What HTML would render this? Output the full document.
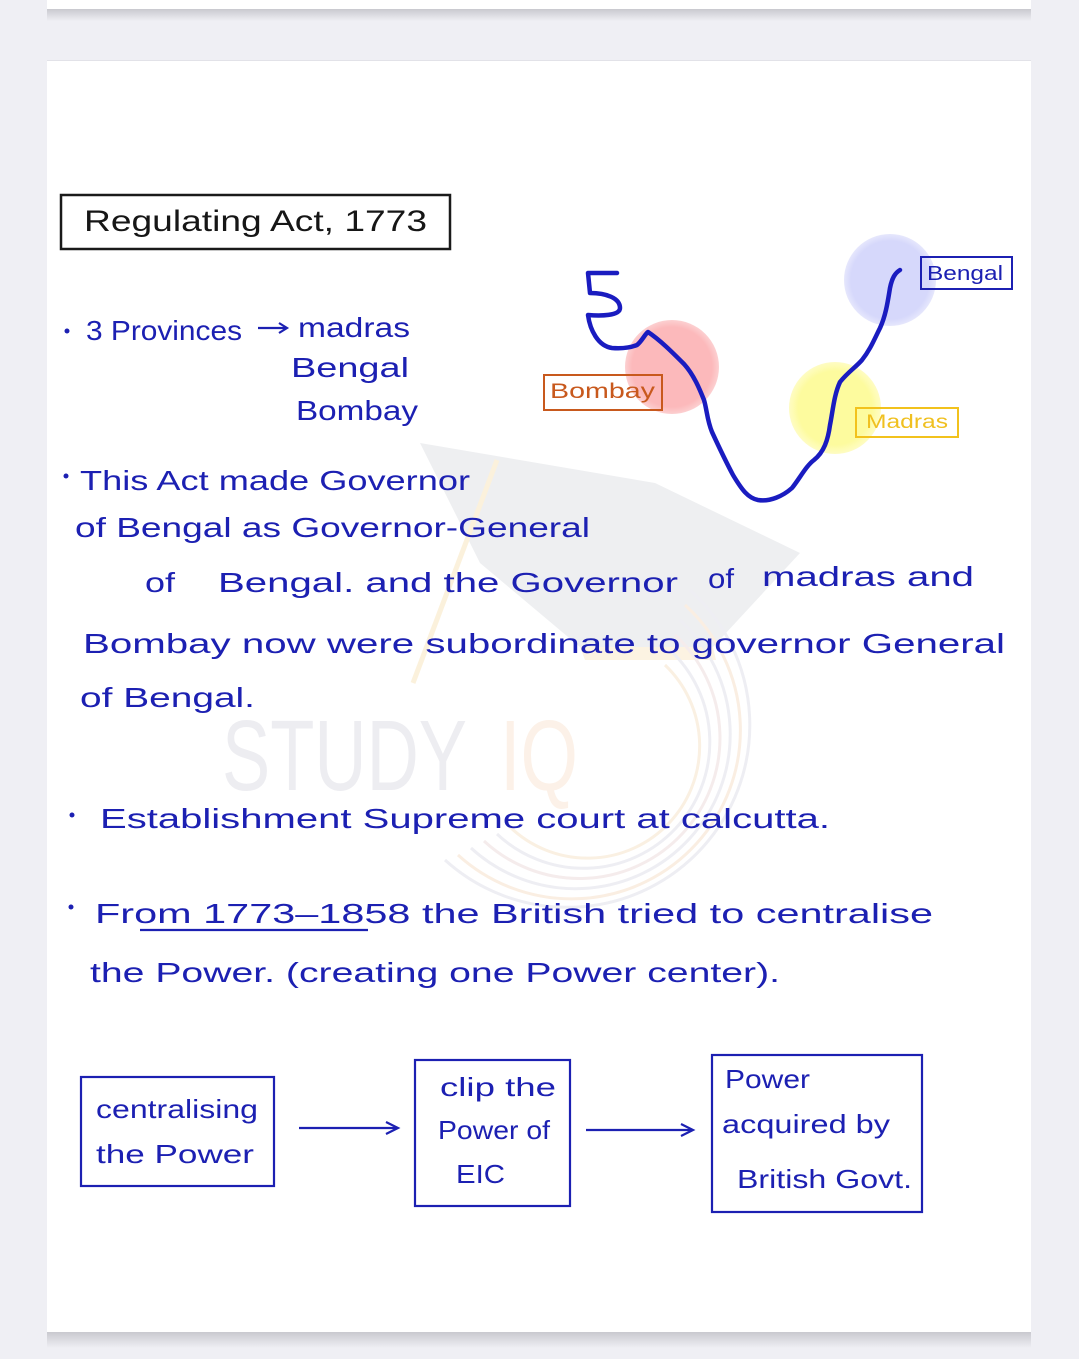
<!DOCTYPE html>
<html>
<head>
<meta charset="utf-8">
<style>
html,body{margin:0;padding:0;background:#efeff4;}
body{width:1079px;height:1359px;overflow:hidden;position:relative;}
svg{position:absolute;left:0;top:0;}
.h{font-family:"Liberation Sans",sans-serif;fill:#1c20b2;}
</style>
</head>
<body>
<svg width="1079" height="1359" viewBox="0 0 1079 1359" xmlns="http://www.w3.org/2000/svg">
  <defs>
    <linearGradient id="sh" x1="0" y1="0" x2="0" y2="1">
      <stop offset="0" stop-color="#c9c9cf"/>
      <stop offset="1" stop-color="#efeff4"/>
    </linearGradient>
    <radialGradient id="gb" cx="0.5" cy="0.5" r="0.5">
      <stop offset="0.85" stop-color="#d6d8fb"/>
      <stop offset="1" stop-color="#e6e7fc"/>
    </radialGradient>
    <radialGradient id="gr" cx="0.5" cy="0.5" r="0.5">
      <stop offset="0.85" stop-color="#fcb9bb"/>
      <stop offset="1" stop-color="#fcd0d1"/>
    </radialGradient>
    <radialGradient id="gy" cx="0.5" cy="0.5" r="0.5">
      <stop offset="0.8" stop-color="#fdfb9e"/>
      <stop offset="1" stop-color="#fefcc4"/>
    </radialGradient>
  </defs>

  <!-- background pages -->
  <rect x="0" y="0" width="1079" height="1359" fill="#efeff4"/>
  <rect x="47" y="0" width="984" height="9" fill="#ffffff"/>
  <rect x="47" y="9" width="984" height="12" fill="url(#sh)"/>
  <rect x="47" y="60" width="984" height="1" fill="#e2e2e8"/>
  <rect x="47" y="61" width="984" height="1271" fill="#ffffff"/>
  <rect x="47" y="1332" width="984" height="16" fill="url(#sh)"/>

  <!-- watermark -->
  <g>
    <polygon points="420,443 655,483 800,553 713,647 580,647 480,563" fill="#eeeff1"/>
    <polygon points="580,647 713,647 716,660 585,660" fill="#fcf3e2"/>
    <line x1="497" y1="460" x2="413" y2="683" stroke="#fbf1dc" stroke-width="5"/>
    <text x="222" y="790" font-family="Liberation Sans,sans-serif" font-size="100" fill="#ededf1" textLength="245" lengthAdjust="spacingAndGlyphs">STUDY</text>
    <text x="500" y="790" font-family="Liberation Sans,sans-serif" font-size="100" fill="#fcf1e8" textLength="78" lengthAdjust="spacingAndGlyphs">IQ</text>
    <g fill="none" stroke-width="3">
      <path d="M 690 590 A 165 165 0 1 1 445 860" stroke="#eeeef3"/>
      <path d="M 685 605 A 150 150 0 1 1 458 855" stroke="#faeee2"/>
      <path d="M 680 620 A 135 135 0 1 1 471 848" stroke="#eeeef3"/>
      <path d="M 675 635 A 120 120 0 1 1 484 841" stroke="#f5ecec"/>
      <path d="M 670 650 A 105 105 0 1 1 497 834" stroke="#eeeef3"/>
      <path d="M 665 665 A 90 90 0 1 1 510 827" stroke="#faf0e2"/>
    </g>
  </g>

  <!-- title -->
  <rect x="61" y="195" width="389" height="54" fill="none" stroke="#1a1a1a" stroke-width="2.5"/>
  <text x="84" y="231" font-family="Liberation Sans,sans-serif" font-size="30" fill="#161616" textLength="343" lengthAdjust="spacingAndGlyphs">Regulating  Act, 1773</text>

  <!-- provinces -->
  <circle cx="67" cy="331" r="2.5" fill="#1c20b2"/>
  <text class="h" x="86" y="340" font-size="28" textLength="156" lengthAdjust="spacingAndGlyphs">3 Provinces</text>
  <line x1="258" y1="328" x2="285" y2="328" stroke="#1c20b2" stroke-width="2.2"/>
  <polyline points="279,323 287,328 279,333" fill="none" stroke="#1c20b2" stroke-width="2.2"/>
  <text class="h" x="298" y="337" font-size="28" textLength="112" lengthAdjust="spacingAndGlyphs">madras</text>
  <text class="h" x="291" y="377" font-size="28" textLength="118" lengthAdjust="spacingAndGlyphs">Bengal</text>
  <text class="h" x="296" y="420" font-size="28" textLength="122" lengthAdjust="spacingAndGlyphs">Bombay</text>

  <!-- paragraph -->
  <circle cx="66" cy="476" r="2.5" fill="#1c20b2"/>
  <text class="h" x="80" y="490" font-size="28" textLength="390" lengthAdjust="spacingAndGlyphs">This Act made Governor</text>
  <text class="h" x="75" y="537" font-size="28" textLength="515" lengthAdjust="spacingAndGlyphs">of Bengal as Governor-General</text>
  <text class="h" x="145" y="592" font-size="28" textLength="30" lengthAdjust="spacingAndGlyphs">of</text>
  <text class="h" x="218" y="592" font-size="28" textLength="460" lengthAdjust="spacingAndGlyphs">Bengal. and the Governor</text>
  <text class="h" x="708" y="588" font-size="28" textLength="26" lengthAdjust="spacingAndGlyphs">of</text>
  <text class="h" x="762" y="586" font-size="28" textLength="212" lengthAdjust="spacingAndGlyphs">madras and</text>
  <text class="h" x="83" y="653" font-size="28" textLength="922" lengthAdjust="spacingAndGlyphs">Bombay now were subordinate to governor General</text>
  <text class="h" x="80" y="707" font-size="28" textLength="175" lengthAdjust="spacingAndGlyphs">of Bengal.</text>

  <circle cx="72" cy="815" r="2.5" fill="#1c20b2"/>
  <text class="h" x="100" y="828" font-size="28" textLength="730" lengthAdjust="spacingAndGlyphs">Establishment  Supreme  court  at  calcutta.</text>

  <circle cx="71" cy="907" r="2.5" fill="#1c20b2"/>
  <text class="h" x="95" y="923" font-size="28" textLength="838" lengthAdjust="spacingAndGlyphs">From 1773–1858  the British tried  to centralise</text>
  <line x1="140" y1="930" x2="368" y2="930" stroke="#1c20b2" stroke-width="2.2"/>
  <text class="h" x="90" y="982" font-size="28" textLength="690" lengthAdjust="spacingAndGlyphs">the Power. (creating one Power center).</text>

  <!-- map -->
  <circle cx="890" cy="280" r="46" fill="url(#gb)"/>
  <circle cx="672" cy="367" r="47" fill="url(#gr)"/>
  <circle cx="835" cy="408" r="46" fill="url(#gy)"/>
  <path d="M 617 273 L 588 273 L 590 293 C 606 293 620 298 620 308 C 620 316 600 316 588 315 C 590 330 598 346 612 348 C 625 349 632 347 637 345 C 642 341 645 334 648 332 C 660 340 672 352 684 364 C 694 375 700 390 704 400 C 707 410 707 420 712 432 C 718 445 725 460 733 475 C 742 490 748 498 758 500 C 770 502 783 496 792 488 C 800 478 806 466 814 460 C 824 452 828 440 830 425 C 833 410 834 395 840 382 C 848 372 856 367 862 360 C 870 350 874 340 880 328 C 886 315 888 300 890 288 C 892 278 895 273 900 270" fill="none" stroke="#1a1cc0" stroke-width="4.5" stroke-linecap="round" stroke-linejoin="round"/>

  <rect x="921" y="257" width="91" height="32" fill="none" stroke="#1c20b2" stroke-width="2"/>
  <text class="h" x="927" y="280" font-size="20" textLength="76" lengthAdjust="spacingAndGlyphs">Bengal</text>

  <rect x="544" y="375" width="118" height="35" fill="none" stroke="#c8591d" stroke-width="2"/>
  <text x="550" y="398" font-family="Liberation Sans,sans-serif" font-size="21" fill="#c8591d" textLength="105" lengthAdjust="spacingAndGlyphs">Bombay</text>

  <rect x="856" y="408" width="102" height="29" fill="none" stroke="#f2c21c" stroke-width="2"/>
  <text x="866" y="428" font-family="Liberation Sans,sans-serif" font-size="19" fill="#f0c020" textLength="82" lengthAdjust="spacingAndGlyphs">Madras</text>

  <!-- flow boxes -->
  <rect x="81" y="1077" width="193" height="109" fill="none" stroke="#1c20b2" stroke-width="2.2"/>
  <text class="h" x="96" y="1118" font-size="26" textLength="162" lengthAdjust="spacingAndGlyphs">centralising</text>
  <text class="h" x="96" y="1163" font-size="26" textLength="158" lengthAdjust="spacingAndGlyphs">the Power</text>

  <line x1="299" y1="1128" x2="396" y2="1128" stroke="#1c20b2" stroke-width="2.2"/>
  <polyline points="386,1122 398,1128 386,1134" fill="none" stroke="#1c20b2" stroke-width="2.2"/>

  <rect x="415" y="1060" width="155" height="146" fill="none" stroke="#1c20b2" stroke-width="2.2"/>
  <text class="h" x="440" y="1096" font-size="26" textLength="116" lengthAdjust="spacingAndGlyphs">clip the</text>
  <text class="h" x="438" y="1139" font-size="26" textLength="112" lengthAdjust="spacingAndGlyphs">Power of</text>
  <text class="h" x="456" y="1183" font-size="26" textLength="49" lengthAdjust="spacingAndGlyphs">EIC</text>

  <line x1="586" y1="1130" x2="691" y2="1130" stroke="#1c20b2" stroke-width="2.2"/>
  <polyline points="681,1124 693,1130 681,1136" fill="none" stroke="#1c20b2" stroke-width="2.2"/>

  <rect x="712" y="1055" width="210" height="157" fill="none" stroke="#1c20b2" stroke-width="2.2"/>
  <text class="h" x="725" y="1088" font-size="26" textLength="85" lengthAdjust="spacingAndGlyphs">Power</text>
  <text class="h" x="722" y="1133" font-size="26" textLength="168" lengthAdjust="spacingAndGlyphs">acquired by</text>
  <text class="h" x="737" y="1188" font-size="26" textLength="175" lengthAdjust="spacingAndGlyphs">British Govt.</text>
</svg>
</body>
</html>
